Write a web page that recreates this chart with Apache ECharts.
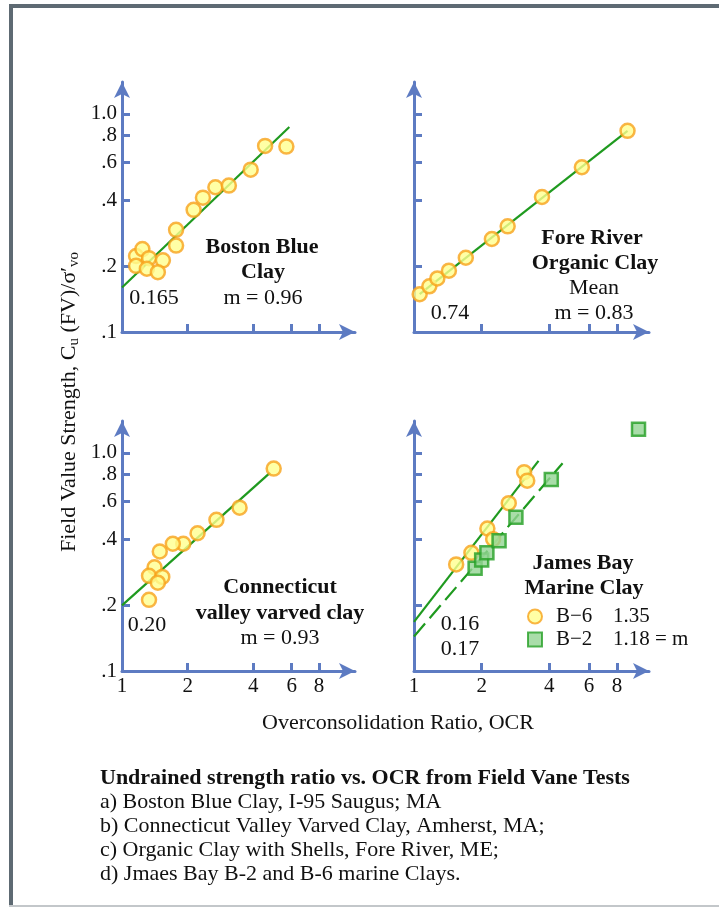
<!DOCTYPE html>
<html>
<head>
<meta charset="utf-8">
<script src="https://cdn.jsdelivr.net/npm/echarts@6/dist/echarts.min.js"></script>
<style>
  html, body { margin: 0; padding: 0; background: #fff; }
  #fvCharts { width: 719px; height: 908px; }
</style>
</head>
<body>
<div id="fvCharts"></div>
<script>
// tick values / labels (log axes)
const xTickValues = [2, 4, 6, 8];
const xLabelValues = [1, 2, 4, 6, 8];
const xLabelTexts = ["1", "2", "4", "6", "8"];
const yTickValues = [0.2, 0.4, 0.6, 0.8, 1.0];
const yLabelValues = [0.1, 0.2, 0.4, 0.6, 0.8, 1.0];
const yLabelTexts = [".1", ".2", ".4", ".6", ".8", "1.0"];

// a) Boston Blue Clay
const bbcOcr = [1.16, 1.24, 1.16, 1.33, 1.30, 1.54, 1.46, 1.77, 1.77, 2.13, 2.35, 2.68, 3.09, 3.89, 4.53, 5.67];
const bbcSu = [0.223, 0.240, 0.201, 0.218, 0.195, 0.213, 0.188, 0.294, 0.249, 0.363, 0.413, 0.461, 0.469, 0.555, 0.713, 0.708];
const bbcFitOcr = [1, 5.85];
const bbcFitSu = [0.16, 0.87];

// c) Fore River organic clay
const frOcr = [1.06, 1.17, 1.27, 1.43, 1.70, 2.22, 2.61, 3.71, 5.58, 8.91];
const frSu = [0.149, 0.162, 0.176, 0.191, 0.219, 0.267, 0.305, 0.416, 0.569, 0.836];
const frFitOcr = [1.06, 8.91];
const frFitSu = [0.149, 0.836];

// b) Connecticut valley varved clay
const cvcOcr = [4.96, 3.46, 2.71, 2.22, 1.91, 1.71, 1.49, 1.41, 1.33, 1.53, 1.46, 1.33];
const cvcSu = [0.847, 0.561, 0.493, 0.428, 0.383, 0.383, 0.353, 0.299, 0.273, 0.270, 0.254, 0.212];
const cvcFitOcr = [1, 4.78];
const cvcFitSu = [0.20, 0.812];

// d) James Bay B-6 / B-2
const b6Ocr = [1.54, 1.80, 2.12, 2.25, 2.64, 3.09, 3.19];
const b6Su = [0.308, 0.348, 0.450, 0.402, 0.588, 0.816, 0.746];
const b6FitOcr = [1, 3.58];
const b6FitSu = [0.168, 0.919];
const b2Ocr = [1.87, 2.00, 2.11, 2.39, 2.84, 4.08, 9.97];
const b2Su = [0.296, 0.323, 0.348, 0.396, 0.507, 0.754, 1.284];
const b2FitOcr = [1, 4.58];
const b2FitSu = [0.144, 0.897];

const jbNames = ["B−6", "B−2"];
const jbSlopes = ["1.35", "1.18 = m"];

const serif = '"Liberation Serif", "Times New Roman", serif';
const axisBlue = "#5d7bc2";
const fitGreen = "#1f9a1f";
const ink = "#111";

function pairs(xs, ys) {
  return xs.map(function (x, i) { return [x, ys[i]]; });
}

function lookup(values, texts) {
  return function (v) {
    for (let i = 0; i < values.length; i++) {
      if (Math.abs(values[i] - v) < values[i] * 0.01) return texts[i];
    }
    return "";
  };
}

function xAxisFor(grid, max, showLabel) {
  return {
    type: "log", logBase: 10, gridIndex: grid, min: 1, max: max,
    axisLine: {
      lineStyle: { color: axisBlue, width: 3 },
      symbol: ["none", "arrow"], symbolSize: [12, 16]
    },
    axisTick: { inside: true, length: 8, lineStyle: { color: axisBlue, width: 3 }, customValues: xTickValues },
    axisLabel: {
      show: showLabel, customValues: xLabelValues, formatter: lookup(xLabelValues, xLabelTexts),
      margin: 5, fontFamily: serif, fontSize: 21, color: ink
    },
    minorTick: { show: false },
    splitLine: { show: false }
  };
}

function yAxisFor(grid, showLabel) {
  return {
    type: "log", logBase: 10, gridIndex: grid, min: 0.1, max: 1.4,
    axisLine: {
      lineStyle: { color: axisBlue, width: 3 },
      symbol: ["none", "arrow"], symbolSize: [12, 16]
    },
    axisTick: { inside: true, length: 8, lineStyle: { color: axisBlue, width: 3 }, customValues: yTickValues },
    axisLabel: {
      show: showLabel, customValues: yLabelValues, formatter: lookup(yLabelValues, yLabelTexts),
      margin: 5, fontFamily: serif, fontSize: 21, color: ink
    },
    minorTick: { show: false },
    splitLine: { show: false }
  };
}

const circleStyle = { color: "#ffff8e", borderColor: "#f7a21b", borderWidth: 2.5 };
const squareStyle = { color: "#93d493", borderColor: "#25a025", borderWidth: 2.5 };

function pointSeries(name, idx, xs, ys, square) {
  return {
    name: name, type: "scatter", xAxisIndex: idx, yAxisIndex: idx,
    symbol: square ? "rect" : "circle", symbolSize: square ? 13 : 14,
    itemStyle: square ? squareStyle : circleStyle,
    data: pairs(xs, ys), z: 3
  };
}

function fitSeries(idx, xs, ys, dashed) {
  return {
    type: "line", xAxisIndex: idx, yAxisIndex: idx, symbol: "none", silent: true,
    lineStyle: { color: fitGreen, width: 2.2, type: dashed ? [17, 7] : "solid" },
    data: pairs(xs, ys), z: 2
  };
}

function note(text, x, y, bold) {
  return {
    type: "text", x: x, y: y,
    style: {
      text: text, fill: ink, fontFamily: serif, fontSize: 22,
      fontWeight: bold ? "bold" : "normal", align: "center", verticalAlign: "middle"
    }
  };
}

const notes = [
  note("Boston Blue", 262, 247, true), note("Clay", 263, 272, true),
  note("m = 0.96", 263, 298), note("0.165", 154, 298),
  note("Fore River", 592, 238, true), note("Organic Clay", 595, 263, true),
  note("Mean", 594, 288), note("m = 0.83", 594, 313), note("0.74", 450, 313),
  note("Connecticut", 280, 587, true), note("valley varved clay", 280, 613, true),
  note("m = 0.93", 280, 638), note("0.20", 147, 625),
  note("James Bay", 583, 563, true), note("Marine Clay", 584, 588, true),
  note("0.16", 460, 624), note("0.17", 460, 649),
  note("Overconsolidation Ratio, OCR", 398, 723)
];

const caption = [
  "a) Boston Blue Clay, I-95 Saugus; MA",
  "b) Connecticut Valley Varved Clay, Amherst, MA;",
  "c) Organic Clay with Shells, Fore River, ME;",
  "d) Jmaes Bay B-2 and B-6 marine Clays."
];
const captionEls = [{
  type: "text", x: 100, y: 778,
  style: { text: "Undrained strength ratio vs. OCR from Field Vane Tests", fill: ink, fontFamily: serif,
    fontSize: 22, fontWeight: "bold", align: "left", verticalAlign: "middle" }
}];
caption.forEach(function (line, i) {
  captionEls.push({
    type: "text", x: 100, y: 802 + i * 24,
    style: { text: line, fill: ink, fontFamily: serif, fontSize: 22, align: "left", verticalAlign: "middle" }
  });
});

const frame = [
  { type: "rect", shape: { x: 9, y: 4, width: 710, height: 4 }, style: { fill: "#5e6a73" }, z: 10 },
  { type: "rect", shape: { x: 9, y: 4, width: 4, height: 902 }, style: { fill: "#5e6a73" }, z: 10 },
  { type: "rect", shape: { x: 9, y: 905, width: 710, height: 2 }, style: { fill: "#c3c7ca" }, z: 10 }
];

const yTitle = {
  type: "text", x: 70, y: 402, rotation: Math.PI / 2,
  style: {
    text: "{a|Field Value Strength, C}{s|u}{a| (FV)/σ′}{s|vo}",
    align: "center", verticalAlign: "middle", fill: ink,
    rich: {
      a: { fontFamily: serif, fontSize: 22, lineHeight: 24, verticalAlign: "top", fill: ink },
      s: { fontFamily: serif, fontSize: 15, lineHeight: 10, verticalAlign: "bottom", fill: ink }
    }
  }
};

const option = {
  backgroundColor: "#fff",
  animation: false,
  grid: [
    { left: 122, top: 82, width: 233, height: 250 },
    { left: 414, top: 82, width: 235, height: 250 },
    { left: 122, top: 421, width: 233, height: 250 },
    { left: 414, top: 421, width: 235, height: 250 }
  ],
  xAxis: [xAxisFor(0, 11.7, false), xAxisFor(1, 11.1, false), xAxisFor(2, 11.7, true), xAxisFor(3, 11.1, true)],
  yAxis: [yAxisFor(0, true), yAxisFor(1, false), yAxisFor(2, true), yAxisFor(3, false)],
  legend: {
    data: jbNames, orient: "vertical", left: 527, top: 606, padding: 0,
    itemWidth: 14, itemHeight: 14, itemGap: 2,
    formatter: function (name) {
      return "{n|" + name + "}{v|" + jbSlopes[jbNames.indexOf(name)] + "}";
    },
    textStyle: {
      color: ink, fontFamily: serif, fontSize: 21,
      rich: {
        n: { fontFamily: serif, fontSize: 21, lineHeight: 20, width: 57, padding: [0, 0, 0, 9] },
        v: { fontFamily: serif, fontSize: 21, lineHeight: 20 }
      }
    }
  },
  graphic: frame.concat(notes, captionEls, [yTitle]),
  series: [
    fitSeries(0, bbcFitOcr, bbcFitSu, false),
    pointSeries("Boston Blue Clay", 0, bbcOcr, bbcSu, false),
    fitSeries(1, frFitOcr, frFitSu, false),
    pointSeries("Fore River Organic Clay", 1, frOcr, frSu, false),
    fitSeries(2, cvcFitOcr, cvcFitSu, false),
    pointSeries("Connecticut valley varved clay", 2, cvcOcr, cvcSu, false),
    fitSeries(3, b6FitOcr, b6FitSu, false),
    fitSeries(3, b2FitOcr, b2FitSu, true),
    pointSeries("B−6", 3, b6Ocr, b6Su, false),
    pointSeries("B−2", 3, b2Ocr, b2Su, true)
  ]
};

let fvChart = echarts.init(document.getElementById("fvCharts"), null, { renderer: "canvas" });
fvChart.setOption(option);
</script>
</body>
</html>
